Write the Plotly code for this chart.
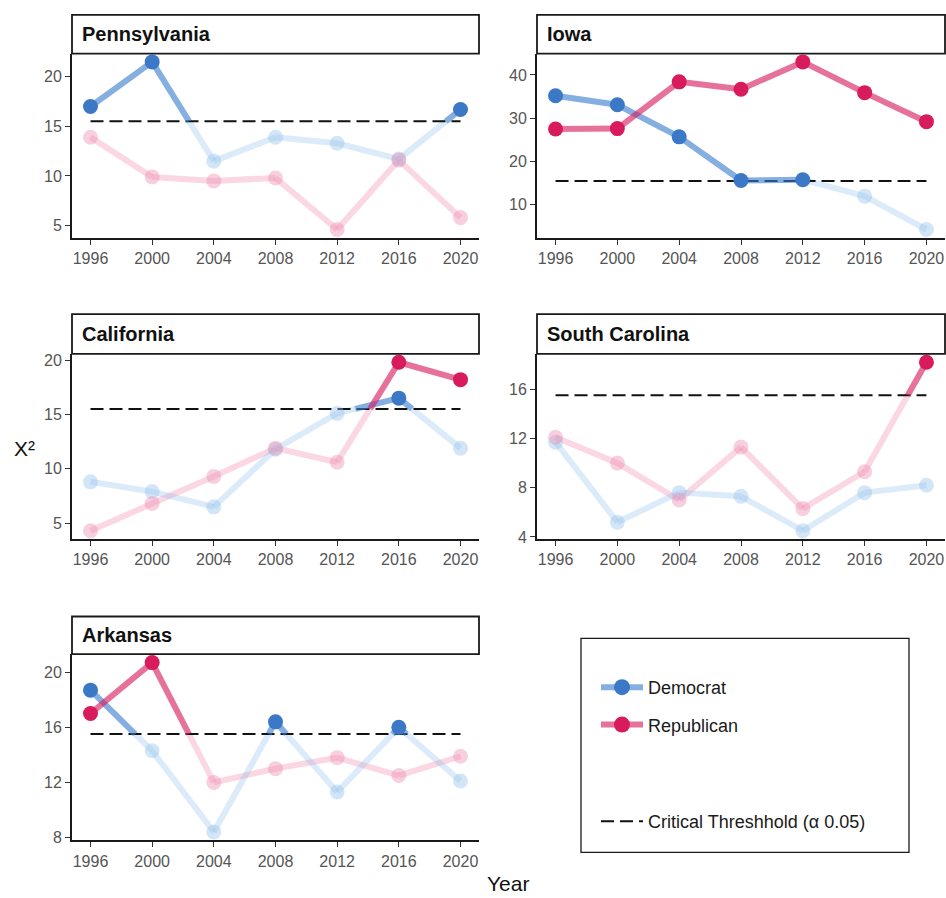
import plotly.graph_objects as go

# ---- data -----------------------------------------------------------------
YEARS = [1996, 2000, 2004, 2008, 2012, 2016, 2020]
STATES = ["Pennsylvania", "Iowa", "California", "South Carolina", "Arkansas"]
CRITICAL = 15.51  # chi-square critical value, df = 8, alpha = 0.05

DEM_PENNSYLVANIA = [17.0, 21.5, 11.5, 13.9, 13.3, 11.7, 16.7]
REP_PENNSYLVANIA = [13.9, 9.9, 9.5, 9.8, 4.6, 11.6, 5.8]

DEM_IOWA = [35.2, 33.1, 25.7, 15.6, 15.8, 12.0, 4.3]
REP_IOWA = [27.5, 27.6, 38.4, 36.7, 43.0, 35.9, 29.2]

DEM_CALIFORNIA = [8.8, 7.9, 6.5, 11.8, 15.1, 16.5, 11.9]
REP_CALIFORNIA = [4.3, 6.8, 9.3, 11.9, 10.6, 19.8, 18.2]

DEM_SOUTH_CAROLINA = [11.7, 5.2, 7.6, 7.3, 4.5, 7.6, 8.2]
REP_SOUTH_CAROLINA = [12.1, 10.0, 7.0, 11.3, 6.3, 9.3, 18.2]

DEM_ARKANSAS = [18.7, 14.3, 8.4, 16.4, 11.3, 16.0, 12.1]
REP_ARKANSAS = [17.0, 20.7, 12.0, 13.0, 13.8, 12.5, 13.9]

Y_DTICK = [5, 10, 5, 4, 4]

series = {
    "Pennsylvania": (DEM_PENNSYLVANIA, REP_PENNSYLVANIA),
    "Iowa": (DEM_IOWA, REP_IOWA),
    "California": (DEM_CALIFORNIA, REP_CALIFORNIA),
    "South Carolina": (DEM_SOUTH_CAROLINA, REP_SOUTH_CAROLINA),
    "Arkansas": (DEM_ARKANSAS, REP_ARKANSAS),
}

# ---- styling ----------------------------------------------------------------
W, H = 946, 898
FONT = "Liberation Sans, Arial, sans-serif"
TICK_GRAY = "#555555"

PARTY_STYLE = {
    "Democrat": dict(
        strong_line="rgba(58,126,205,0.62)",
        faint_line="rgba(140,190,235,0.30)",
        strong_pt="#3b78c6",
        faint_pt="rgba(150,196,236,0.42)",
    ),
    "Republican": dict(
        strong_line="rgba(214,28,96,0.62)",
        faint_line="rgba(238,130,168,0.32)",
        strong_pt="#d81b5c",
        faint_pt="rgba(238,140,176,0.42)",
    ),
}

# panel boxes in pixels: (left, right) per column, (plot_top, plot_bottom, strip_top) per row
COL_X = [(72, 479), (537, 945)]
ROW_Y = [(52, 238, 13), (355, 542, 315), (658, 846, 620)]


def px_x(v):
    return v / W


def px_y(v):
    return 1 - v / H


def split_by_threshold(xs, ys, thr):
    """Split a polyline into pieces above / below the threshold."""
    strong_x, strong_y, faint_x, faint_y = [], [], [], []
    for (x0, y0), (x1, y1) in zip(zip(xs, ys), zip(xs[1:], ys[1:])):
        a0, a1 = y0 >= thr, y1 >= thr
        if a0 == a1:
            tx, ty = (strong_x, strong_y) if a0 else (faint_x, faint_y)
            tx += [x0, x1, None]
            ty += [y0, y1, None]
        else:
            t = (thr - y0) / (y1 - y0)
            xc = x0 + t * (x1 - x0)
            tx, ty = (strong_x, strong_y) if a0 else (faint_x, faint_y)
            tx += [x0, xc, None]
            ty += [y0, thr, None]
            tx, ty = (strong_x, strong_y) if a1 else (faint_x, faint_y)
            tx += [xc, x1, None]
            ty += [thr, y1, None]
    return strong_x, strong_y, faint_x, faint_y


fig = go.Figure()
layout_axes = {}
shapes = []
annotations = []

line_traces = []
point_traces = []

for i, state in enumerate(STATES):
    row, col = divmod(i, 2)
    left, right = COL_X[col]
    top, bottom, strip_top = ROW_Y[row]
    n = i + 1
    xa = "x" if n == 1 else f"x{n}"
    ya = "y" if n == 1 else f"y{n}"

    dem, rep = series[state]
    allv = dem + rep + [CRITICAL]
    lo, hi = min(allv), max(allv)
    pad = 0.05 * (hi - lo)
    span = YEARS[-1] - YEARS[0]

    axis_common = dict(
        showgrid=False, zeroline=False, showline=True, linecolor="#1a1a1a",
        linewidth=1.8, ticks="outside", ticklen=5, tickwidth=1.3,
        tickcolor="#333333", tickfont=dict(family=FONT, size=16, color=TICK_GRAY),
        fixedrange=True,
    )
    layout_axes[f"xaxis{'' if n == 1 else n}"] = dict(
        domain=[px_x(left), px_x(right)], anchor=ya,
        range=[YEARS[0] - 0.05 * span, YEARS[-1] + 0.05 * span],
        tickvals=YEARS, ticktext=[str(y) for y in YEARS], **axis_common,
    )
    layout_axes[f"yaxis{'' if n == 1 else n}"] = dict(
        domain=[px_y(bottom), px_y(top)], anchor=xa,
        range=[lo - pad, hi + pad], tick0=0, dtick=Y_DTICK[i], **axis_common,
    )

    # facet strip
    shapes.append(dict(
        type="rect", xref="paper", yref="paper",
        x0=px_x(left), x1=px_x(right), y0=px_y(top), y1=px_y(strip_top),
        line=dict(color="#1a1a1a", width=1.8), fillcolor="white", layer="above",
    ))
    annotations.append(dict(
        text=f"<b>{state}</b>", xref="paper", yref="paper",
        x=px_x(left + 8), y=px_y((top + strip_top) / 2),
        xanchor="left", yanchor="middle", showarrow=False,
        font=dict(family=FONT, size=20, color="#111111"),
    ))

    # critical threshold line
    line_traces.append(go.Scatter(
        x=[YEARS[0], YEARS[-1]], y=[CRITICAL, CRITICAL], xaxis=xa, yaxis=ya,
        mode="lines", line=dict(color="#111111", width=2, dash="13px,6px"),
        showlegend=False, hoverinfo="skip",
    ))

    for party, vals in (("Democrat", dem), ("Republican", rep)):
        st = PARTY_STYLE[party]
        sx, sy, fx, fy = split_by_threshold(YEARS, vals, CRITICAL)
        line_traces.insert(0, go.Scatter(
            x=fx, y=fy, xaxis=xa, yaxis=ya, mode="lines",
            line=dict(color=st["faint_line"], width=6),
            showlegend=False, hoverinfo="skip",
        ))
        line_traces.append(go.Scatter(
            x=sx, y=sy, xaxis=xa, yaxis=ya, mode="lines",
            line=dict(color=st["strong_line"], width=6),
            showlegend=False, hoverinfo="skip",
        ))
        point_traces.append(go.Scatter(
            x=YEARS, y=vals, xaxis=xa, yaxis=ya, mode="markers",
            marker=dict(
                size=15,
                color=[st["strong_pt"] if v >= CRITICAL else st["faint_pt"] for v in vals],
                line=dict(width=0),
            ),
            name=party, showlegend=False,
        ))

for tr in line_traces + point_traces:
    fig.add_trace(tr)

# legend entries
for party in ("Democrat", "Republican"):
    st = PARTY_STYLE[party]
    fig.add_trace(go.Scatter(
        x=[None], y=[None], mode="lines+markers", name=party,
        line=dict(color=st["strong_line"], width=6),
        marker=dict(size=16, color=st["strong_pt"]),
        legend="legend", legendgroup=party,
    ))
fig.add_trace(go.Scatter(
    x=[None], y=[None], mode="lines", name="Critical Threshhold (α 0.05)",
    line=dict(color="#111111", width=2, dash="13px,6px"),
    legend="legend2",
))

# legend frame
shapes.append(dict(
    type="rect", xref="paper", yref="paper",
    x0=px_x(581), x1=px_x(909), y0=px_y(858), y1=px_y(642),
    line=dict(color="#1a1a1a", width=1.3), fillcolor="rgba(0,0,0,0)",
))

# axis titles
annotations.append(dict(
    text="Year", xref="paper", yref="paper", x=px_x(508), y=px_y(889),
    xanchor="center", yanchor="middle", showarrow=False,
    font=dict(family=FONT, size=21, color="#111111"),
))
annotations.append(dict(
    text="Χ²", xref="paper", yref="paper", x=px_x(24), y=px_y(451),
    xanchor="center", yanchor="middle", showarrow=False,
    font=dict(family=FONT, size=21, color="#111111"),
))

legend_font = dict(family=FONT, size=18, color="#1a1a1a")
fig.update_layout(
    width=W, height=H,
    margin=dict(l=0, r=0, t=0, b=0),
    paper_bgcolor="white", plot_bgcolor="white",
    shapes=shapes, annotations=annotations,
    legend=dict(
        x=px_x(596), y=px_y(673), xanchor="left", yanchor="top",
        font=legend_font, itemwidth=42, tracegroupgap=11,
        traceorder="grouped", bgcolor="rgba(0,0,0,0)",
    ),
    legend2=dict(
        x=px_x(596), y=px_y(827), xanchor="left", yanchor="middle",
        font=legend_font, itemwidth=42, bgcolor="rgba(0,0,0,0)",
    ),
    **layout_axes,
)

fig.write_html("out.html")
